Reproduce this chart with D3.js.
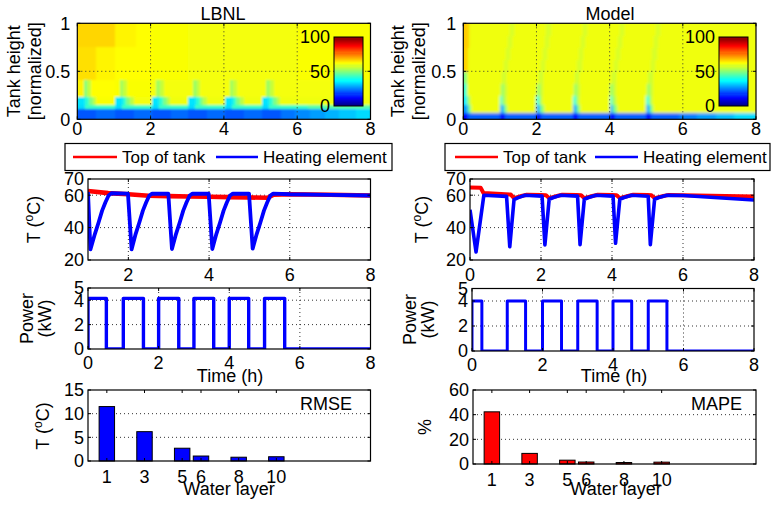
<!DOCTYPE html>
<html>
<head>
<meta charset="utf-8">
<script src="https://cdn.jsdelivr.net/npm/d3@7"></script>
<style>
  body { margin: 0; background: #fff; }
  text { font-family: "Liberation Sans", Arial, Helvetica, sans-serif; fill: #000; }
</style>
</head>
<body>
<svg id="fig" width="773" height="506"></svg>
<script>
// ---------------- data ----------------
const panelTitles = ["LBNL", "Model"];
const timeTicks = [0, 2, 4, 6, 8];
const heightTicks = [0, 0.5, 1];
const heightTickLabels = ["0", "0.5", "1"];
const colorbarTicks = [0, 50, 100];
const tempTicks = [20, 40, 60, 70];
const powerTicks = [0, 2, 4, 5];
const rmseTicks = [0, 5, 10, 15];
const mapeTicks = [0, 20, 40, 60];

// measured tank: temperature (°C) per height band, segments [t0, t1, T]
const lbnlHeights = [0, 0.115, 0.15, 0.24, 0.41, 0.76, 1.0];
const lbnlBand1 = [[0,0.5,21],[0.5,1.03,23],[1.03,1.55,21],[1.55,2.03,23],[2.03,2.55,21],[2.55,3.03,23],
  [3.03,3.55,21],[3.55,4.03,23],[4.03,4.55,21],[4.55,5.03,23],[5.03,5.55,21],[5.55,5.95,24],
  [5.95,6.35,26],[6.35,6.75,28],[6.75,7.15,30],[7.15,7.6,32],[7.6,8,34]];
const lbnlBand2 = [[0,0.22,34],[0.22,1.03,43],[1.03,1.22,34],[1.22,2.03,43],[2.03,2.22,34],[2.22,3.03,43],
  [3.03,3.22,34],[3.22,4.03,43],[4.03,4.22,34],[4.22,5.03,43],[5.03,5.22,34],[5.22,6.3,43],[6.3,8,46]];
const lbnlBand3 = [[0,0.22,35],[0.22,0.32,42],[0.32,0.42,50],[0.42,0.52,56],[0.52,1.03,62],
  [1.03,1.24,35],[1.24,1.34,42],[1.34,1.44,50],[1.44,1.54,56],[1.54,2.03,61.5],
  [2.03,2.24,35],[2.24,2.34,42],[2.34,2.44,50],[2.44,2.54,56],[2.54,3.03,61],
  [3.03,3.24,35],[3.24,3.34,42],[3.34,3.44,50],[3.44,3.54,56],[3.54,4.03,61],
  [4.03,4.24,35],[4.24,4.34,42],[4.34,4.44,50],[4.44,4.54,56],[4.54,5.03,61],
  [5.03,5.24,35],[5.24,5.34,42],[5.34,5.44,50],[5.44,5.54,56],[5.54,8,61]];
const lbnlBand4 = [[0,0.17,63.5],[0.17,0.27,50],[0.27,0.37,56],[0.37,1.03,62.5],
  [1.03,1.16,62],[1.16,1.26,53],[1.26,1.36,57],[1.36,2.03,62],
  [2.03,2.16,61.5],[2.16,2.26,53],[2.26,2.36,57],[2.36,3.03,61.5],
  [3.03,3.16,61.5],[3.16,3.26,53],[3.26,3.36,57],[3.36,4.03,61.5],
  [4.03,4.16,61.5],[4.16,4.26,53],[4.26,4.36,57],[4.36,5.03,61.5],
  [5.03,5.16,61.5],[5.16,5.26,53],[5.26,5.36,57],[5.36,8,61.5]];
const lbnlBand5 = [[0,0.5,65.5],[0.5,1.03,63.5],[1.03,2.03,62.5],[2.03,3.03,62],[3.03,4.03,61.5],
  [4.03,5.03,61.5],[5.03,6.03,61.5],[6.03,8,62]];
const lbnlBand6 = [[0,1.03,66.5],[1.03,1.6,63.5],[1.6,2.03,62.5],[2.03,3.03,62],[3.03,4.03,61.5],
  [4.03,5.03,61.5],[5.03,6.03,61.5],[6.03,8,62]];

// model tank: band base temperatures and departures [t0, t1, T]
const modelHeights = [0, 0.07, 0.15, 0.25, 0.375, 0.5, 0.625, 0.75, 0.875, 1.0];
const modelBase = [22, 61, 61, 61, 61, 61, 61, 61, 61];
const modelBand1 = [[0,0.12,13],[1,1.12,13],[2,2.12,13],[3,3.12,13],[4,4.12,13],[5,5.12,13],
  [5.9,6.4,25],[6.4,6.9,28],[6.9,7.4,31],[7.4,8,34]];
const modelBand2 = [[0,0.12,28],[0.12,0.2,48],[1,1.1,30],[1.1,1.18,50],[2,2.1,30],[2.1,2.18,50],
  [3,3.1,30],[3.1,3.18,50],[4,4.1,30],[4.1,4.18,50],[5,5.1,30],[5.1,5.18,50]];
const modelBand3 = [[0,0.1,36],[0.1,0.18,52],[1,1.07,40],[1.07,1.15,54],[2,2.07,40],[2.07,2.15,54],
  [3,3.07,40],[3.07,3.15,54],[4,4.07,40],[4.07,4.15,54],[5,5.07,40],[5.07,5.15,54]];
const modelBand4 = [[0,0.1,42],[1.02,1.1,52],[1.1,1.17,57.5],[2.02,2.1,52],[2.1,2.17,57.5],
  [3.02,3.1,52],[3.1,3.17,57.5],[4.02,4.1,52],[4.1,4.17,57.5],[5.02,5.1,52],[5.1,5.17,57.5]];
const modelBand5 = [[0,0.1,50],[1.06,1.16,57.5],[2.06,2.16,57.5],[3.06,3.16,57.5],[4.06,4.16,57.5],[5.06,5.16,57.5]];
const modelBand6 = [[0,0.12,67],[1.12,1.22,58.5],[2.12,2.22,58.5],[3.12,3.22,58.5],[4.12,4.22,58.5],[5.12,5.22,58.5]];
const modelBand7 = [[0,0.12,67],[1.17,1.27,58.5],[2.17,2.27,58.5],[3.17,3.27,58.5],[4.17,4.27,58.5],[5.17,5.27,58.5]];
const modelBand8 = [[0,0.13,67.5],[1.22,1.32,58.5],[2.22,2.32,58.5],[3.22,3.32,58.5],[4.22,4.32,58.5],[5.22,5.32,58.5]];
const modelBand9 = [[0,0.14,67.5],[1.27,1.37,58.5],[2.27,2.37,58.5],[3.27,3.37,58.5],[4.27,4.37,58.5],[5.27,5.37,58.5]];

// temperatures (°C) over time (h)
const lbnlHeatT = [1.00, 1.06, 1.17, 1.26, 1.35, 1.43, 1.51, 1.58, 1.99,
  2.08, 2.18, 2.27, 2.36, 2.44, 2.52, 2.59, 2.99,
  3.08, 3.18, 3.27, 3.36, 3.44, 3.52, 3.59, 3.99,
  4.08, 4.18, 4.27, 4.36, 4.44, 4.52, 4.59, 4.99,
  5.08, 5.18, 5.27, 5.36, 5.44, 5.52, 5.59, 6.0, 7.0, 8.0];
const lbnlHeatV = [62.0, 26.5, 36.0, 43.0, 50.5, 55.5, 59.8, 61.2, 61.0,
  26.5, 36.0, 43.0, 50.5, 55.5, 59.8, 61.0, 60.9,
  26.8, 36.0, 43.0, 50.5, 55.5, 59.8, 61.0, 60.9,
  26.8, 36.0, 43.0, 50.5, 55.5, 59.8, 61.0, 60.9,
  27.0, 36.0, 43.0, 50.5, 55.5, 59.8, 61.0, 60.6, 60.2, 59.8];
const lbnlTopT = [1.0, 1.5, 2.0, 2.5, 3.0, 3.5, 4.0, 4.5, 5.0, 5.45, 5.6, 6.0, 7.0, 8.0];
const lbnlTopV = [62.6, 61.3, 60.6, 59.7, 59.4, 59.2, 59.0, 58.8, 58.6, 58.4, 60.3, 60.6, 60.3, 59.8];

const modelHeatT = [0.00, 0.17, 0.39, 1.03,
  1.12, 1.24, 1.36, 1.55, 2.03,
  2.11, 2.23, 2.35, 2.55, 3.03,
  3.10, 3.22, 3.34, 3.55, 4.03,
  4.10, 4.22, 4.34, 4.55, 5.02,
  5.08, 5.20, 5.32, 5.55, 6.00, 8.00];
const modelHeatV = [51.0, 25.0, 60.0, 59.3,
  28.2, 57.3, 58.5, 60.0, 59.4,
  29.3, 57.5, 58.6, 60.0, 59.4,
  29.5, 57.5, 58.6, 60.0, 59.4,
  30.3, 57.5, 58.6, 60.0, 59.4,
  29.5, 57.5, 58.6, 60.0, 59.8, 57.0];
const modelTopT = [0.0, 0.30, 0.38, 1.0, 1.15, 1.24, 1.45, 1.6, 2.0, 2.14, 2.23, 2.45, 2.6,
  3.0, 3.13, 3.22, 3.45, 3.6, 4.0, 4.13, 4.22, 4.45, 4.6, 5.0, 5.11, 5.20, 5.45, 5.6, 6.0, 8.0];
const modelTopV = [64.8, 64.6, 61.4, 60.6, 60.4, 58.2, 59.5, 60.3, 60.2, 60.0, 58.2, 59.5, 60.3,
  60.2, 60.0, 58.2, 59.5, 60.3, 60.2, 60.0, 58.2, 59.5, 60.3, 60.2, 60.0, 58.2, 59.5, 60.2, 60.0, 59.2];

// heating element power (kW), step changes
const lbnlPowerT = [0, 0, 0.52, 1.0, 1.57, 2.0, 2.57, 3.0, 3.56, 4.0, 4.55, 5.0, 5.57, 8.0];
const lbnlPowerV = [0, 4.15, 0, 4.15, 0, 4.15, 0, 4.15, 0, 4.15, 0, 4.15, 0, 0];
const modelPowerT = [0, 0, 0.28, 1.0, 1.52, 2.0, 2.54, 3.0, 3.55, 4.0, 4.53, 5.0, 5.53, 8.0];
const modelPowerV = [0, 4, 0, 4, 0, 4, 0, 4, 0, 4, 0, 4, 0, 0];

// error per water layer
const waterLayers = [1, 3, 5, 6, 8, 10];
const rmseValues = [11.5, 6.2, 2.7, 1.05, 0.8, 0.9];
const mapeValues = [42.3, 8.6, 3.1, 1.6, 1.2, 1.5];

// ---------------- drawing ----------------
const svg = d3.select("#fig");
const defs = svg.append("defs");
const TICK_FS = 18, LABEL_FS = 18, LEGEND_FS = 17;

function jet(T) {
  const v = Math.max(0, Math.min(1, T / 100));
  const c = k => Math.round(255 * Math.max(0, Math.min(1, 1.5 - Math.abs(4 * v - k))));
  return `rgb(${c(3)},${c(2)},${c(1)})`;
}

function makePanel(box, xDomain, yDomain) {
  return {
    box,
    x: d3.scaleLinear().domain(xDomain).range([box[0], box[1]]),
    y: d3.scaleLinear().domain(yDomain).range([box[3], box[2]])
  };
}

function grid(p, xs, ys) {
  const [x0, x1, y0, y1] = p.box;
  const g = svg.append("g").attr("stroke", "#333").attr("stroke-width", 1).attr("stroke-dasharray", "1,3");
  xs.forEach(v => g.append("line").attr("x1", p.x(v)).attr("x2", p.x(v)).attr("y1", y0).attr("y2", y1));
  ys.forEach(v => g.append("line").attr("x1", x0).attr("x2", x1).attr("y1", p.y(v)).attr("y2", p.y(v)));
}

function frame(p, o) {
  const [x0, x1, y0, y1] = p.box;
  const g = svg.append("g");
  g.append("rect").attr("x", x0).attr("y", y0).attr("width", x1 - x0).attr("height", y1 - y0)
    .attr("fill", "none").attr("stroke", "#000").attr("stroke-width", 1.2);
  const tl = 3;
  o.xTicks.forEach(v => {
    const x = p.x(v);
    g.append("line").attr("x1", x).attr("x2", x).attr("y1", y1).attr("y2", y1 - tl).attr("stroke", "#000");
    g.append("line").attr("x1", x).attr("x2", x).attr("y1", y0).attr("y2", y0 + tl).attr("stroke", "#000");
  });
  o.yTicks.forEach(v => {
    const y = p.y(v);
    g.append("line").attr("x1", x0).attr("x2", x0 + tl).attr("y1", y).attr("y2", y).attr("stroke", "#000");
    g.append("line").attr("x1", x1).attr("x2", x1 - tl).attr("y1", y).attr("y2", y).attr("stroke", "#000");
  });
  (o.xLabels || o.xTicks).forEach((lab, i) => {
    g.append("text").attr("x", p.x(o.xTicks[i])).attr("y", y1 + o.xLabelDy)
      .attr("text-anchor", "middle").attr("font-size", TICK_FS).text(lab);
  });
  (o.yLabels || o.yTicks).forEach((lab, i) => {
    g.append("text").attr("x", x0 - o.yLabelGap).attr("y", p.y(o.yTicks[i]) + 6.3)
      .attr("text-anchor", "end").attr("font-size", TICK_FS).text(lab);
  });
}

function yTitle(lines, cy) {
  lines.forEach(([bx, parts]) => {
    const t = svg.append("text").attr("transform", `translate(${bx},${cy}) rotate(-90)`)
      .attr("text-anchor", "middle").attr("font-size", LABEL_FS);
    parts.forEach(pt => {
      const s = t.append("tspan").text(pt.s);
      if (pt.sup) s.attr("font-size", 12).attr("dy", -7);
      if (pt.down) s.attr("dy", 7);
    });
  });
}
const degC = [{ s: "T (" }, { s: "o", sup: true }, { s: "C)", down: true }];

function heatmap(p, heights, bands, base, blurStd, id) {
  const [x0, x1, y0, y1] = p.box;
  defs.append("clipPath").attr("id", id + "-clip").append("rect")
    .attr("x", x0).attr("y", y0).attr("width", x1 - x0).attr("height", y1 - y0);
  const f = defs.append("filter").attr("id", id + "-blur").attr("filterUnits", "userSpaceOnUse")
    .attr("x", x0 - 10).attr("y", y0 - 10).attr("width", x1 - x0 + 20).attr("height", y1 - y0 + 20);
  f.append("feGaussianBlur").attr("stdDeviation", blurStd);
  const outer = svg.append("g").attr("clip-path", `url(#${id}-clip)`);
  const g = outer.append("g").attr("filter", `url(#${id}-blur)`).attr("shape-rendering", "crispEdges");
  const pad = 8;
  const cellX = t => p.x(t) + (t <= 0 ? -pad : 0);
  const cellX2 = t => p.x(t) + (t >= 8 ? pad : 0);
  bands.forEach((segs, i) => {
    const h0 = heights[i], h1 = heights[i + 1];
    const yTop = p.y(h1) - (h1 >= 1 ? pad : 0);
    const yBot = p.y(h0) + (h0 <= 0 ? pad : 0);
    const all = base ? [[0, 8, base[i]]].concat(segs) : segs;
    g.selectAll(null).data(all).join("rect")
      .attr("x", d => cellX(d[0]))
      .attr("width", d => cellX2(d[1]) - cellX(d[0]) + 0.5)
      .attr("y", yTop)
      .attr("height", yBot - yTop + 0.5)
      .attr("fill", d => jet(d[2]));
  });
}

function colorbar(box) {
  const [x0, x1, y0, y1] = box;
  const c = d3.scaleLinear().domain([0, 100]).range([y1, y0]);
  const steps = d3.range(64);
  svg.append("g").selectAll("rect").data(steps).join("rect")
    .attr("x", x0).attr("width", x1 - x0)
    .attr("y", d => c((d + 1) * 100 / 64)).attr("height", d => c(d * 100 / 64) - c((d + 1) * 100 / 64) + 0.4)
    .attr("fill", d => jet((d + 0.5) * 100 / 64)).attr("shape-rendering", "crispEdges");
  svg.append("rect").attr("x", x0).attr("y", y0).attr("width", x1 - x0).attr("height", y1 - y0)
    .attr("fill", "none").attr("stroke", "#000").attr("stroke-width", 1);
  colorbarTicks.forEach(v => {
    svg.append("text").attr("x", x0 - 4).attr("y", c(v) + 6.3).attr("text-anchor", "end")
      .attr("font-size", TICK_FS).text(v);
  });
}

function series(p, ts, vs, color, width, curve) {
  const [x0, x1, y0, y1] = p.box;
  const id = "clip" + Math.round(x0) + "-" + Math.round(y0);
  if (defs.select("#" + id).empty()) {
    defs.append("clipPath").attr("id", id).append("rect")
      .attr("x", x0).attr("y", y0 - 1).attr("width", x1 - x0).attr("height", y1 - y0 + 1);
  }
  const line = d3.line().x(d => p.x(d[0])).y(d => p.y(d[1])).curve(curve || d3.curveLinear);
  svg.append("path").datum(ts.map((t, i) => [t, vs[i]]))
    .attr("clip-path", `url(#${id})`)
    .attr("d", line).attr("fill", "none").attr("stroke", color).attr("stroke-width", width)
    .attr("stroke-linejoin", "round");
}

function legend(box, items) {
  const [x0, x1, y0, y1] = box;
  svg.append("rect").attr("x", x0).attr("y", y0).attr("width", x1 - x0).attr("height", y1 - y0)
    .attr("fill", "#fff").attr("stroke", "#000").attr("stroke-width", 1.2);
  items.forEach(it => {
    svg.append("line").attr("x1", it.l0).attr("x2", it.l1).attr("y1", 157).attr("y2", 157)
      .attr("stroke", it.color).attr("stroke-width", 2.6);
    svg.append("text").attr("x", it.tx).attr("y", 163).attr("font-size", LEGEND_FS).text(it.label);
  });
}

function bars(p, layers, values, color) {
  const w = 0.82;
  svg.append("g").selectAll("rect").data(layers.map((l, i) => [l, values[i]])).join("rect")
    .attr("x", d => p.x(d[0] - w / 2)).attr("width", d => p.x(d[0] + w / 2) - p.x(d[0] - w / 2))
    .attr("y", d => p.y(d[1])).attr("height", d => p.y(0) - p.y(d[1]))
    .attr("fill", color).attr("stroke", "#000").attr("stroke-width", 1);
}

// ---- panel geometry ----
const heatL = makePanel([77.3, 370.5, 23.3, 119.3], [0, 8], [0, 1]);
const heatR = makePanel([463.3, 756, 23.3, 119.3], [0, 8], [0, 1]);
const lineL = makePanel([88, 370.5, 179, 260], [1, 8], [20, 70]);
const lineR = makePanel([470, 754, 179, 260], [0, 8], [20, 70]);
const powL = makePanel([88, 370.5, 288, 349], [0, 8], [0, 5]);
const powR = makePanel([472, 754, 288.5, 351], [0, 8], [0, 5]);
const barL = makePanel([88, 370.5, 390, 461], [0, 15], [0, 15]);
const barR = makePanel([473, 756, 390, 464], [0, 15], [0, 60]);

// ---- row 1: stratification maps ----
heatmap(heatL, lbnlHeights, [lbnlBand1, lbnlBand2, lbnlBand3, lbnlBand4, lbnlBand5, lbnlBand6], null, 0.8, "hl");
heatmap(heatR, modelHeights, [modelBand1, modelBand2, modelBand3, modelBand4, modelBand5, modelBand6,
  modelBand7, modelBand8, modelBand9], modelBase, 1.6, "hr");
[heatL, heatR].forEach(p => {
  grid(p, [2, 4, 6], [0.5]);
  frame(p, { xTicks: timeTicks, yTicks: heightTicks, yLabels: heightTickLabels, xLabelDy: 15.5, yLabelGap: 7 });
});
colorbar([334, 363, 37, 106]);
colorbar([719, 748, 37, 106]);
svg.append("text").attr("x", 223).attr("y", 20).attr("text-anchor", "middle").attr("font-size", LABEL_FS).text(panelTitles[0]);
svg.append("text").attr("x", 610).attr("y", 20).attr("text-anchor", "middle").attr("font-size", LABEL_FS).text(panelTitles[1]);
yTitle([[20, [{ s: "Tank height" }]], [41, [{ s: "[normalized]" }]]], 71.3);
yTitle([[403.5, [{ s: "Tank height" }]], [424.5, [{ s: "[normalized]" }]]], 71.3);

// ---- legends ----
legend([65, 392, 143.5, 170.5], [
  { l0: 73, l1: 117, tx: 122, color: "#ff0000", label: "Top of tank" },
  { l0: 216, l1: 258, tx: 263, color: "#0000ff", label: "Heating element" }]);
legend([445, 770, 143.5, 170.5], [
  { l0: 455, l1: 498, tx: 503, color: "#ff0000", label: "Top of tank" },
  { l0: 595, l1: 638, tx: 643, color: "#0000ff", label: "Heating element" }]);

// ---- row 2: temperatures ----
grid(lineL, [2, 4, 6], [40, 60]);
grid(lineR, [2, 4, 6], [40, 60]);
series(lineL, lbnlTopT, lbnlTopV, "#ff0000", 4.6);
series(lineL, lbnlHeatT, lbnlHeatV, "#0000ff", 3.8);
series(lineR, modelTopT, modelTopV, "#ff0000", 4.0);
series(lineR, modelHeatT, modelHeatV, "#0000ff", 3.6);
frame(lineL, { xTicks: [2, 4, 6, 8], yTicks: tempTicks, xLabelDy: 21, yLabelGap: 4 });
frame(lineR, { xTicks: timeTicks, yTicks: tempTicks, xLabelDy: 21, yLabelGap: 4 });
yTitle([[40, degC]], 219.5);
yTitle([[428, degC]], 219.5);

// ---- row 3: power ----
grid(powL, [2, 4, 6], [2, 4]);
grid(powR, [2, 4, 6], [2, 4]);
series(powL, lbnlPowerT, lbnlPowerV, "#0000ff", 3.4, d3.curveStepAfter);
series(powR, modelPowerT, modelPowerV, "#0000ff", 3.0, d3.curveStepAfter);
frame(powL, { xTicks: timeTicks, yTicks: powerTicks, xLabelDy: 19.5, yLabelGap: 4 });
frame(powR, { xTicks: timeTicks, yTicks: powerTicks, xLabelDy: 19.5, yLabelGap: 4 });
yTitle([[33, [{ s: "Power" }]], [51, [{ s: "(kW)" }]]], 318.5);
yTitle([[416, [{ s: "Power" }]], [434, [{ s: "(kW)" }]]], 319.5);
svg.append("text").attr("x", 230).attr("y", 382).attr("text-anchor", "middle").attr("font-size", LABEL_FS).text("Time (h)");
svg.append("text").attr("x", 614).attr("y", 382).attr("text-anchor", "middle").attr("font-size", LABEL_FS).text("Time (h)");

// ---- row 4: errors per layer ----
grid(barL, [], [5, 10]);
grid(barR, [], [20, 40]);
bars(barL, waterLayers, rmseValues, "#0000ff");
bars(barR, waterLayers, mapeValues, "#ff0000");
frame(barL, { xTicks: waterLayers, yTicks: rmseTicks, xLabelDy: 22, yLabelGap: 4 });
frame(barR, { xTicks: waterLayers, yTicks: mapeTicks, xLabelDy: 22, yLabelGap: 4 });
svg.append("text").attr("x", 352).attr("y", 410).attr("text-anchor", "end").attr("font-size", LABEL_FS).text("RMSE");
svg.append("text").attr("x", 742).attr("y", 410).attr("text-anchor", "end").attr("font-size", LABEL_FS).text("MAPE");
yTitle([[49, degC]], 426);
yTitle([[431, [{ s: "%" }]]], 427);
svg.append("text").attr("x", 229).attr("y", 495).attr("text-anchor", "middle").attr("font-size", LABEL_FS).text("Water layer");
svg.append("text").attr("x", 616).attr("y", 495).attr("text-anchor", "middle").attr("font-size", LABEL_FS).text("Water layer");
</script>
</body>
</html>
